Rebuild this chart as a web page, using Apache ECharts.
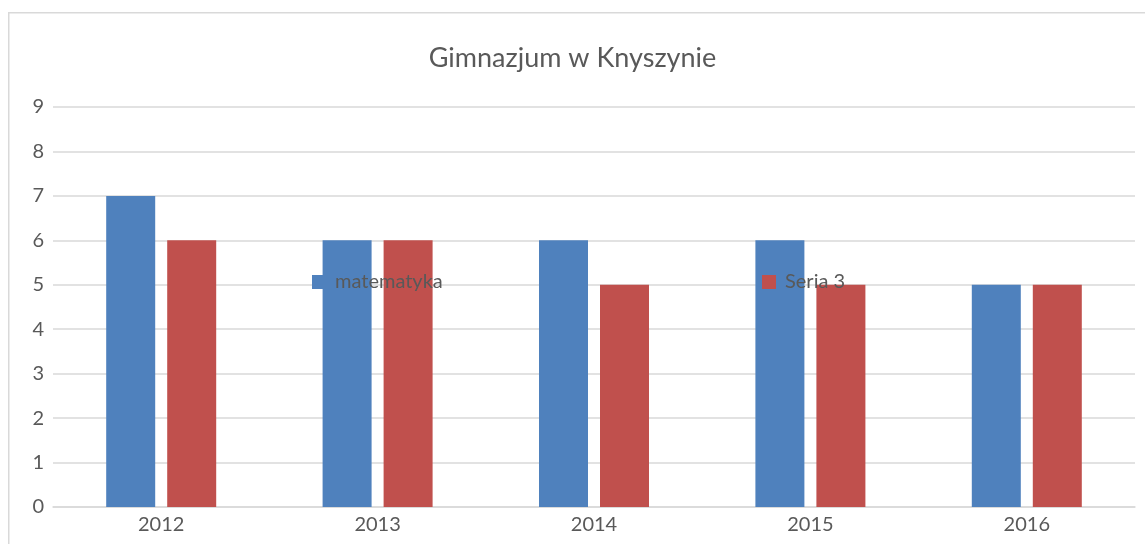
<!DOCTYPE html>
<html>
<head>
<meta charset="utf-8">
<script src="https://cdn.jsdelivr.net/npm/echarts@6/dist/echarts.min.js"></script>
<style>html,body{margin:0;padding:0;background:#fff}#c{width:1145px;height:544px}</style>
</head>
<body>
<div id="c"></div>
<script>
const title = "Gimnazjum w Knyszynie";
const categories = ["2012", "2013", "2014", "2015", "2016"];
const seriesNames = ["matematyka", "Seria 3"];
const matematyka = [7, 6, 6, 6, 5];
const seria3 = [6, 6, 5, 5, 5];
const yTicks = { min: 0, max: 9, interval: 1 };

const chart = echarts.init(document.getElementById('c'), null, { renderer: 'canvas' });
const textColor = '#595959';
const font = 'Lato';
chart.setOption({
  animation: false,
  backgroundColor: '#fff',
  graphic: [{
    type: 'rect', left: 8, top: 12, z: -10,
    shape: { width: 1160, height: 560 },
    style: { fill: '#fff', stroke: '#d9d9d9', lineWidth: 1.5 }
  }],
  title: {
    text: title, left: 'center', top: 40,
    textStyle: { color: textColor, fontFamily: font, fontSize: 27, fontWeight: 'normal' }
  },
  legend: [{
    data: [seriesNames[0]], left: 312, top: 272, itemWidth: 14, itemHeight: 14, itemGap: 0,
    icon: 'rect', textStyle: { color: textColor, fontFamily: font, fontSize: 20, padding: [0, 0, 0, 4] }, padding: 0
  }, {
    data: [seriesNames[1]], left: 762, top: 272, itemWidth: 14, itemHeight: 14, itemGap: 0,
    icon: 'rect', textStyle: { color: textColor, fontFamily: font, fontSize: 20, padding: [0, 0, 0, 4] }, padding: 0
  }],
  grid: { left: 53, right: 10, top: 107, bottom: 37, containLabel: false },
  xAxis: {
    type: 'category', data: categories,
    axisLine: { lineStyle: { color: '#d9d9d9', width: 1.5 } },
    axisTick: { show: false },
    axisLabel: { color: textColor, fontFamily: font, fontSize: 20, margin: 8 }
  },
  yAxis: {
    type: 'value', min: yTicks.min, max: yTicks.max, interval: yTicks.interval,
    axisLine: { show: false }, axisTick: { show: false },
    splitLine: { lineStyle: { color: '#d9d9d9', width: 1.5 } },
    axisLabel: { color: textColor, fontFamily: font, fontSize: 20, margin: 9 }
  },
  series: [{
    name: seriesNames[0], type: 'bar', data: matematyka, barWidth: 49, barGap: '24.5%',
    itemStyle: { color: '#4F81BD' }
  }, {
    name: seriesNames[1], type: 'bar', data: seria3, barWidth: 49, barGap: '24.5%',
    itemStyle: { color: '#C0504D' }
  }]
});
</script>
</body>
</html>
